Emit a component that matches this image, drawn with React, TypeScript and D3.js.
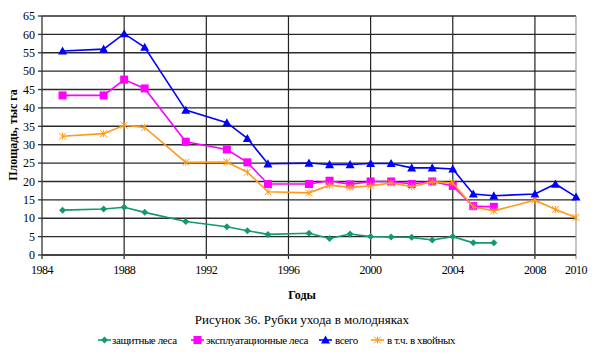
import React from "react";
import * as d3 from "d3";

const years = [1985, 1987, 1988, 1989, 1991, 1993, 1994, 1995, 1997, 1998, 1999, 2000, 2001, 2002, 2003, 2004, 2005, 2006, 2008, 2009, 2010];

const totalVals: (number | null)[] = [55.5, 56, 60.2, 56.5, 39.4, 36.0, 31.7, 24.8, 25.0, 24.6, 24.6, 24.9, 24.9, 23.7, 23.7, 23.4, 16.6, 16.1, 16.6, 19.3, 15.8];
const exploitVals: (number | null)[] = [43.4, 43.4, 47.7, 45.3, 30.8, 28.7, 25.2, 19.3, 19.3, 20.2, 19.2, 20.0, 20.0, 19.3, 20.0, 18.8, 13.3, 13.1, null, null, null];
const coniferVals: (number | null)[] = [32.3, 33.0, 35.3, 34.7, 25.2, 25.3, 22.5, 17.2, 16.9, 19.0, 18.4, 18.8, 19.6, 18.6, 19.9, 19.6, 13.1, 12.0, 14.9, 12.4, 10.2];
const protectVals: (number | null)[] = [12.2, 12.5, 13.0, 11.6, 9.1, 7.7, 6.6, 5.6, 5.9, 4.5, 5.7, 5.0, 4.9, 4.8, 4.1, 5.0, 3.3, 3.3, null, null, null];

const xTicks = [1984, 1988, 1992, 1996, 2000, 2004, 2008, 2010];
const yTicks = [0, 5, 10, 15, 20, 25, 30, 35, 40, 45, 50, 55, 60, 65];

const seriesNames = ["защитные леса", "эксплуатационные леса", "всего", "в т.ч. в хвойных"];

const yLabel = "Площадь, тыс га";
const xLabel = "Годы";
const title = "Рисунок 36. Рубки ухода в молодняках";

type Marker = "diamond" | "square" | "triangle" | "star";

const series = [
  { name: seriesNames[0], values: protectVals, color: "#139a68", marker: "diamond" as Marker },
  { name: seriesNames[1], values: exploitVals, color: "#ff00ff", marker: "square" as Marker },
  { name: seriesNames[2], values: totalVals, color: "#0000ff", marker: "triangle" as Marker },
  { name: seriesNames[3], values: coniferVals, color: "#ff9a1a", marker: "star" as Marker },
];

const FONT = '"Liberation Serif", "Times New Roman", serif';
const tStyle: React.CSSProperties = { fontFamily: FONT };

function MarkerShape({ type, x, y, color }: { type: Marker; x: number; y: number; color: string }) {
  if (type === "diamond") {
    const s = 3.5;
    return <path d={`M${x},${y - s}L${x + s},${y}L${x},${y + s}L${x - s},${y}Z`} fill={color} />;
  }
  if (type === "square") {
    const s = 4;
    return <rect x={x - s} y={y - s} width={2 * s} height={2 * s} fill={color} />;
  }
  if (type === "triangle") {
    const s = 4.5;
    return <path d={`M${x},${y - s}L${x + s},${y + s * 0.8}L${x - s},${y + s * 0.8}Z`} fill={color} />;
  }
  const s = 3.5;
  return (
    <g stroke={color} strokeWidth={1}>
      <line x1={x - s} y1={y - s} x2={x + s} y2={y + s} />
      <line x1={x - s} y1={y + s} x2={x + s} y2={y - s} />
      <line x1={x} y1={y - s} x2={x} y2={y + s} />
    </g>
  );
}

export default function App() {
  const W = 604, H = 358;
  const x = d3.scaleLinear().domain([1984, 2010]).range([42, 576]);
  const y = d3.scaleLinear().domain([0, 65]).range([255, 16]);

  const line = d3
    .line<[number, number | null]>()
    .defined((d) => d[1] !== null)
    .x((d) => x(d[0]))
    .y((d) => y(d[1] as number));

  const legendItems = [
    { lx: 98, tx: 112 },
    { lx: 191, tx: 206 },
    { lx: 319, tx: 335 },
    { lx: 371, tx: 387 },
  ];

  return (
    <svg width={W} height={H} style={{ position: "absolute", left: 0, top: 0, background: "#fff", fontFamily: FONT }}>
      <rect x={0} y={0} width={W} height={H} fill="#fff" />
      {yTicks.map((t) => (
        <line key={"h" + t} x1={x(1984)} x2={x(2010)} y1={y(t)} y2={y(t)} stroke="#2a2a2a" strokeWidth={1.4} />
      ))}
      {xTicks.filter((t) => t !== 1984).map((t) => (
        <line key={"v" + t} x1={x(t)} x2={x(t)} y1={y(65)} y2={y(0) + 4} stroke={t === 2010 ? "#999" : "#222"} strokeWidth={1.2} />
      ))}
      <line x1={x(1984)} x2={x(1984)} y1={y(65)} y2={y(0)} stroke="#333" strokeWidth={1.3} />
      <line x1={x(1984)} x2={x(2010)} y1={y(0)} y2={y(0)} stroke="#444" strokeWidth={2} />
      {yTicks.map((t) => (
        <line key={"yt" + t} x1={x(1984) - 4} x2={x(1984)} y1={y(t)} y2={y(t)} stroke="#333" strokeWidth={1.3} />
      ))}
      <line x1={x(1984)} x2={x(1984)} y1={y(0)} y2={y(0) + 4} stroke="#333" strokeWidth={1.3} />
      {yTicks.map((t) => (
        <text key={"yl" + t} x={35} y={y(t)} dy="0.35em" textAnchor="end" fontSize={12} fill="#000" style={tStyle}>
          {t}
        </text>
      ))}
      {xTicks.map((t) => (
        <text key={"xl" + t} x={x(t)} y={274} textAnchor="middle" fontSize={12} fill="#000" letterSpacing={-0.5} style={tStyle}>
          {t}
        </text>
      ))}
      <text x={13} y={135} transform="rotate(-90 13 135)" textAnchor="middle" dy="0.35em" fontSize={12} fontWeight="bold" fill="#000" style={tStyle}>
        {yLabel}
      </text>
      <text x={302} y={299} textAnchor="middle" fontSize={12} fontWeight="bold" fill="#000" style={tStyle}>
        {xLabel}
      </text>
      <text x={302} y={324} textAnchor="middle" fontSize={13} fill="#000" style={tStyle}>
        {title}
      </text>
      {series.map((s) => {
        const pts: [number, number | null][] = years.map((yr, i) => [yr, s.values[i]]);
        return (
          <g key={s.name}>
            <path d={line(pts) || ""} fill="none" stroke={s.color} strokeWidth={1.6} />
            {pts
              .filter((p) => p[1] !== null)
              .map((p, i) => (
                <MarkerShape key={i} type={s.marker} x={x(p[0])} y={y(p[1] as number)} color={s.color} />
              ))}
          </g>
        );
      })}
      {series.map((s, i) => {
        const li = legendItems[i];
        const ly = 340;
        return (
          <g key={"lg" + i}>
            <line x1={li.lx} x2={li.lx + 13} y1={ly} y2={ly} stroke={s.color} strokeWidth={1.6} />
            <MarkerShape type={s.marker} x={li.lx + 6.5} y={ly} color={s.color} />
            <text x={li.tx} y={ly} dy="0.35em" fontSize={11} fill="#000" letterSpacing={-0.4} style={tStyle}>
              {s.name}
            </text>
          </g>
        );
      })}
    </svg>
  );
}
